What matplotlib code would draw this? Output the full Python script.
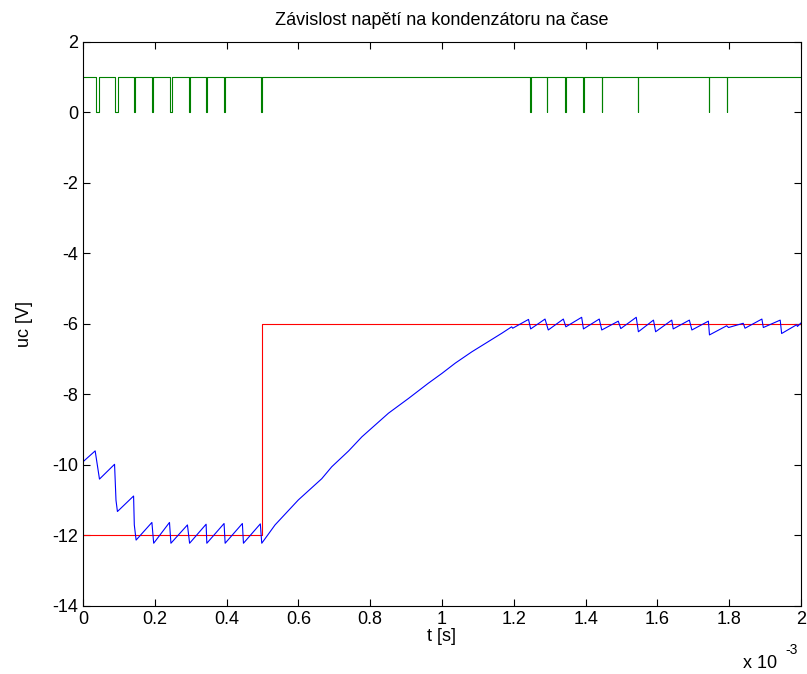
import matplotlib
matplotlib.use("Agg")
import matplotlib.pyplot as plt
from matplotlib.ticker import FuncFormatter

plt.rcParams['font.family'] = ['Liberation Sans', 'DejaVu Sans']
plt.rcParams['axes.unicode_minus'] = False

# time values in ms (plotted as seconds)
# capacitor voltage uc
uc_t = [0.0, 0.034, 0.046, 0.088, 0.092, 0.096, 0.141, 0.143, 0.148,
        0.192, 0.197, 0.241, 0.245, 0.291, 0.297, 0.343, 0.345, 0.393, 0.396,
        0.444, 0.447, 0.494, 0.498,
        0.535, 0.600, 0.665, 0.693, 0.740, 0.777, 0.851, 0.907, 0.962, 1.000,
        1.037, 1.083, 1.129, 1.167, 1.194, 1.197,
        1.241, 1.247, 1.287, 1.296, 1.338, 1.345, 1.389, 1.394, 1.438, 1.445,
        1.491, 1.498, 1.541, 1.547, 1.589, 1.595, 1.640, 1.644, 1.689, 1.696,
        1.742, 1.745, 1.793, 1.798, 1.839, 1.844, 1.891, 1.895, 1.942, 1.946,
        1.988, 1.990, 2.000]
uc_v = [-9.91, -9.60, -10.40, -9.98, -11.00, -11.32, -10.88, -11.70, -12.13,
        -11.63, -12.22, -11.63, -12.22, -11.70, -12.22, -11.68, -12.22, -11.66, -12.22,
        -11.66, -12.22, -11.67, -12.22,
        -11.70, -10.99, -10.39, -10.05, -9.60, -9.20, -8.53, -8.11, -7.68, -7.40,
        -7.11, -6.79, -6.50, -6.26, -6.08, -6.12,
        -5.87, -6.14, -5.86, -6.17, -5.86, -6.08, -5.81, -6.14, -5.86, -6.17,
        -5.92, -6.13, -5.81, -6.22, -5.89, -6.22, -5.89, -6.14, -5.89, -6.17,
        -5.92, -6.31, -6.05, -6.10, -5.98, -6.12, -5.86, -6.10, -5.89, -6.27,
        -6.02, -6.07, -5.97]

# reference voltage
ref_t = [0.0, 0.5, 0.5, 2.0]
ref_v = [-12.0, -12.0, -6.0, -6.0]

# switching signal: low pulses (start, end) in ms
pulse_start = [0.036, 0.088, 0.141, 0.192, 0.243, 0.294, 0.344, 0.394, 0.497,
               1.245, 1.292, 1.343, 1.394, 1.445, 1.545, 1.744, 1.794]
pulse_end = [0.045, 0.097, 0.146, 0.196, 0.247, 0.297, 0.346, 0.396, 0.498,
             1.248, 1.293, 1.344, 1.395, 1.446, 1.546, 1.745, 1.795]

sw_t = [0.0]
sw_v = [1]
for s, e in zip(pulse_start, pulse_end):
    sw_t += [s, s, e, e]
    sw_v += [1, 0, 0, 1]
sw_t.append(2.0)
sw_v.append(1)

fig = plt.figure(figsize=(8.07, 6.74), dpi=100)
ax = fig.add_axes([0.1028, 0.1009, 0.8898, 0.8368])

ax.plot([t * 1e-3 for t in ref_t], ref_v, color=(1, 0, 0), lw=0.8)
ax.plot([t * 1e-3 for t in uc_t], uc_v, color=(0, 0, 1), lw=0.8)
ax.plot([t * 1e-3 for t in sw_t], sw_v, color=(0, 0.5, 0), lw=0.8)

ax.set_xlim(0, 2e-3)
ax.set_ylim(-14, 2)
ax.set_xticks([i * 0.2e-3 for i in range(11)])
ax.set_yticks(range(-14, 3, 2))
ax.xaxis.set_major_formatter(FuncFormatter(lambda v, p: "%g" % round(v * 1e3, 3)))
ax.tick_params(direction="in", top=True, right=True, labelsize=13, length=5)
for sp in ax.spines.values():
    sp.set_linewidth(0.8)

ax.set_title("Závislost napětí na kondenzátoru na čase", fontsize=13, pad=12)
ax.set_xlabel("t [s]", fontsize=13, labelpad=0)
ax.set_ylabel("uc [V]", fontsize=13, labelpad=14)
fig.text(743 / 807, 6 / 674, "x 10", fontsize=13, va="baseline")
fig.text(785 / 807, 20 / 674, "-3", fontsize=10, va="baseline")

fig.savefig("out.png", dpi=100)
